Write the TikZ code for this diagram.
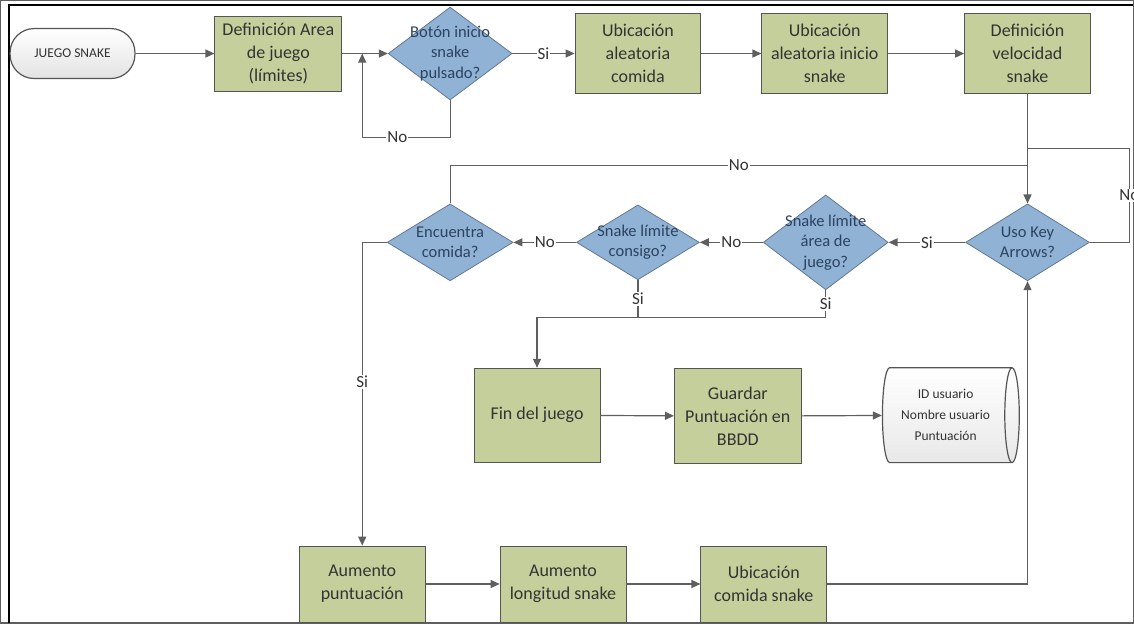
\documentclass[tikz,border=0pt]{standalone}
\usepackage{fontspec}
\setmainfont{Carlito}
\usetikzlibrary{arrows.meta,shapes.geometric}
\definecolor{boxgreen}{RGB}{196,207,155}
\definecolor{boxline}{RGB}{85,85,85}
\definecolor{decblue}{RGB}{143,178,213}
\definecolor{decline}{RGB}{100,120,145}
\definecolor{decfont}{RGB}{45,66,96}
\definecolor{wire}{RGB}{95,95,95}
\begin{document}
\begin{tikzpicture}[x=1pt,y=-1pt,
	proc/.style={draw=boxline,fill=boxgreen,line width=0.8pt,minimum width=126pt,minimum height=80pt,align=center,text=black!80,font=\fontsize{18}{23}\selectfont},
	decision/.style={diamond,draw=decline,fill=decblue,line width=0.8pt,inner sep=0pt,minimum width=124pt,minimum height=77pt},
	dtext/.style={align=center,text=decfont,font=\fontsize{16.5}{20.5}\selectfont},
	term/.style={draw=boxline,rounded corners=24pt,top color=white,bottom color=gray!22,minimum width=125pt,minimum height=50pt,text=black!80,font=\fontsize{13.5}{16}\selectfont},
	store/.style={cylinder,draw=boxline,aspect=0.25,top color=white,bottom color=gray!18,minimum width=95pt,minimum height=137pt,align=center,text=black!80,font=\fontsize{13.5}{21}\selectfont},
	lbl/.style={fill=white,inner sep=1pt,text=black!80,font=\fontsize{17}{20}\selectfont},
	arr/.style={-{Triangle[length=9pt,width=8pt]}},
	every path/.style={draw=wire,line width=1.2pt}]
	\useasboundingbox (0,0) rectangle (1134,623);
	\draw[black,line width=2pt] (8,623) -- (8,4) -- (1134,4);

	\node[term] (start) at (72,53) {JUEGO SNAKE};
	\node[proc,minimum width=127pt,minimum height=75pt] (area) at (278,53) {Definición Area\\de juego\\(límites)};
	\node[decision,minimum height=93pt,label={[dtext]center:Botón inicio\\snake\\pulsado?}] (boton) at (450,53) {};
	\node[proc] (ubic1) at (638,53) {Ubicación\\aleatoria\\comida};
	\node[proc] (ubic2) at (825,53) {Ubicación\\aleatoria inicio\\snake};
	\node[proc] (veloc) at (1028,53) {Definición\\velocidad\\snake};

	\node[decision,label={[dtext]center:Uso Key\\Arrows?}] (keys) at (1028,242) {};
	\node[decision,minimum width=125pt,minimum height=95pt,label={[dtext]center:Snake límite\\área de\\juego?}] (borde) at (826,242) {};
	\node[decision,minimum width=123pt,minimum height=75pt,label={[dtext]center:Snake límite\\consigo?}] (consigo) at (638,242) {};
	\node[decision,minimum width=126pt,label={[dtext]center:Encuentra\\comida?}] (comida) at (450,242) {};

	\node[proc,minimum height=94pt] (fin) at (537,415) {Fin del juego};
	\node[proc,minimum width=127pt,minimum height=95pt] (guardar) at (738,416) {Guardar\\Puntuación en\\BBDD};
	\node[store] (bd) at (946,415) {ID usuario\\Nombre usuario\\Puntuación};

	\node[proc,minimum height=76pt] (puntos) at (362,584) {Aumento\\puntuación};
	\node[proc,minimum height=76pt] (largo) at (563,584) {Aumento\\longitud snake};
	\node[proc,minimum height=76pt] (ubicom) at (764,584) {Ubicación\\comida snake};

	\coordinate (j1) at (362,53);
	\coordinate (j1b) at (362,137);
	\coordinate (j2) at (1028,148);
	\coordinate (j2b) at (1130,148);
	\coordinate (j3) at (1028,165);
	\coordinate (c2) at (638,317);
	\coordinate (b2) at (826,317);

	\draw[arr] (start) -- (area);
	\draw[arr] (area) -- (boton);
	\draw[arr] (boton.south) |- node[lbl,pos=0.8]{No} (j1b) -- (j1);
	\draw[arr] (boton) -- node[lbl]{Si} (ubic1);
	\draw[arr] (ubic1) -- (ubic2);
	\draw[arr] (ubic2) -- (veloc);
	\draw[arr] (veloc) -- (keys);
	\draw (keys.east) -| node[lbl,pos=0.75]{No} (j2b) -- (j2);
	\draw (comida.north) |- node[lbl,pos=0.75]{No} (j3);
	\draw[arr] (keys) -- node[lbl]{Si} (borde);
	\draw[arr] (borde) -- node[lbl]{No} (consigo);
	\draw[arr] (consigo) -- node[lbl]{No} (comida);
	\draw (consigo.south) -- node[lbl]{Si} (c2);
	\draw[arr] (borde.south) -- node[lbl]{Si} (b2) -| (fin.north);
	\draw[arr] (fin) -- (guardar);
	\draw[arr] (guardar) -- (bd);
	\draw[arr] (comida.west) -| node[lbl,pos=0.73]{Si} (puntos.north);
	\draw[arr] (puntos) -- (largo);
	\draw[arr] (largo) -- (ubicom);
	\draw[arr] (ubicom.east) -| (keys.south);
\end{tikzpicture}
\end{document}
